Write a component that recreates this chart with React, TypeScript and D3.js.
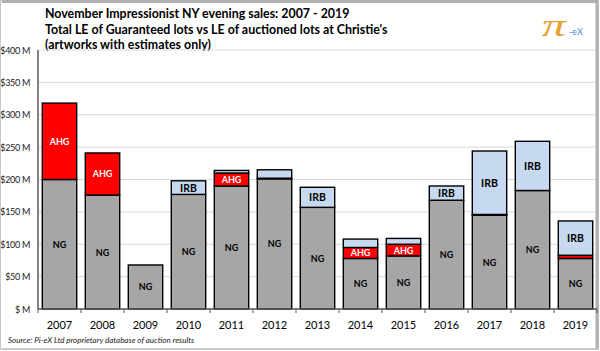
import React from "react";
import * as d3 from "d3";

const years = ["2007","2008","2009","2010","2011","2012","2013","2014","2015","2016","2017","2018","2019"];
const ngValues = [200, 176, 68, 177, 190, 201, 157, 78, 82, 168, 145, 183, 78];
const ahgValues = [118, 65, 0, 0, 20, 1, 0, 17, 18, 0, 1, 0, 5];
const irbValues = [0, 0, 0, 21, 4, 13, 31, 13, 9, 22, 98, 76, 53];
const yTicks = [0, 50, 100, 150, 200, 250, 300, 350, 400];
const titleLines = [
  "November Impressionist NY evening sales: 2007 - 2019",
  "Total LE of Guaranteed lots vs LE of auctioned lots at Christie's",
  "(artworks with estimates only)",
];
const sourceText = "Source:  Pi-eX Ltd proprietary database of auction results";

const W = 600, H = 351;
const FONT = "Lato, 'Open Sans', sans-serif";

export default function App() {
  const x = d3.scaleBand<string>().domain(years).range([38, 597]).paddingInner(0.2).paddingOuter(0.1);
  const y = d3.scaleLinear().domain([0, 400]).range([309, 50]);
  const bw = x.bandwidth();
  const step = x.step();

  const series = [
    { key: "NG", values: ngValues, fill: "#a6a6a6", text: "#000", size: 9 },
    { key: "AHG", values: ahgValues, fill: "#ff0000", text: "#fff", size: 9 },
    { key: "IRB", values: irbValues, fill: "#c6d9f1", text: "#000", size: 10.5 },
  ];

  const rects: React.ReactNode[] = [];
  const labels: React.ReactNode[] = [];
  years.forEach((yr, i) => {
    let base = 0;
    series.forEach((s) => {
      const v = s.values[i];
      if (v > 0) {
        const y0 = y(base), y1 = y(base + v);
        rects.push(
          <rect key={yr + s.key} x={x(yr)} y={y1} width={bw} height={y0 - y1}
            fill={s.fill} stroke="#000" strokeWidth={1.4} />
        );
        if (v > 15) {
          labels.push(
            <text key={"l" + yr + s.key} x={(x(yr) as number) + bw / 2} y={(y0 + y1) / 2}
              textAnchor="middle" dominantBaseline="central" fontSize={s.size}
              fontWeight="bold" fill={s.text} fontFamily={FONT}>{s.key}</text>
          );
        }
      }
      base += v;
    });
  });

  return (
    <svg width={W} height={H} style={{ position: "absolute", left: 0, top: 0, background: "#fff" }}>
      <rect x={0.5} y={0.5} width={W - 2} height={H - 2} fill="#fff" stroke="#c8c8c8" strokeWidth={1} />
      <line x1={2} y1={1.5} x2={W - 2} y2={1.5} stroke="#b0b0b0" strokeWidth={3} />
      <line x1={W - 3} y1={2} x2={W - 3} y2={H - 2} stroke="#b0b0b0" strokeWidth={3} />
      <line x1={2} y1={H - 2} x2={W - 2} y2={H - 2} stroke="#c8c8c8" strokeWidth={2} />

      {titleLines.map((t, i) => (
        <text key={t} x={45} y={18 + i * 15.5} fontSize={12.4} fontWeight="bold" fill="#000" fontFamily={FONT}>{t}</text>
      ))}

      <g transform="translate(542,36) scale(1.5,1)">
        <text x={0} y={0} fontSize={32} fill="#e8a030" fontFamily="'Liberation Serif', serif" fontStyle="italic">π</text>
      </g>
      <text x={569} y={35} fontSize={9} fill="#4a86e8" fontFamily={FONT}>-eX</text>

      {yTicks.map((t) => (
        <g key={t}>
          <line x1={38} x2={596} y1={y(t)} y2={y(t)} stroke="#d9d9d9" strokeWidth={1} />
          <text x={30} y={y(t)} textAnchor="end" dominantBaseline="central" fontSize={9} fill="#222"
            fontFamily={FONT} letterSpacing={-0.3}>{t === 0 ? "$ M" : `$${t} M`}</text>
        </g>
      ))}

      {rects}
      {labels}

      <line x1={38} x2={38} y1={50} y2={309} stroke="#595959" strokeWidth={1.5} />
      <line x1={38} x2={597} y1={309} y2={309} stroke="#595959" strokeWidth={1.5} />
      {d3.range(years.length + 1).map((i) => {
        const tx = 38 + i * step;
        return <line key={"t" + i} x1={tx} x2={tx} y1={309} y2={313} stroke="#595959" strokeWidth={1} />;
      })}
      {years.map((yr) => (
        <text key={"x" + yr} x={(x(yr) as number) + bw / 2} y={324} textAnchor="middle" dominantBaseline="central"
          fontSize={11} fill="#000" fontFamily={FONT}>{yr}</text>
      ))}

      <text x={8} y={343} fontSize={8} fontStyle="italic" fill="#222" fontFamily={FONT}>{sourceText}</text>
    </svg>
  );
}
